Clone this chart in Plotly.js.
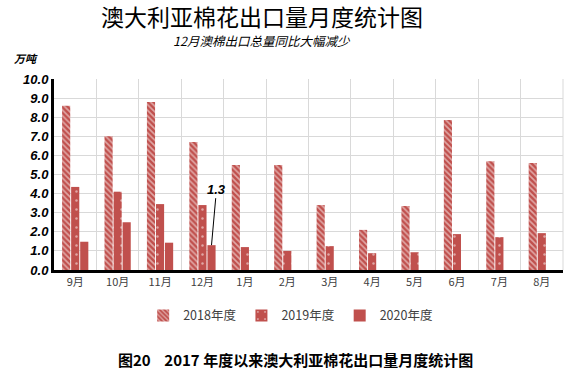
<!DOCTYPE html>
<html><head><meta charset="utf-8">
<script src="https://cdn.plot.ly/plotly-3.0.1.min.js"></script>
<style>html,body{margin:0;padding:0;background:#fff}#c{width:586px;height:382px}</style>
</head><body><div id="c"></div>
<script>
const months = ['9月','10月','11月','12月','1月','2月','3月','4月','5月','6月','7月','8月'];
const seriesNames = ['2018年度','2019年度','2020年度'];
const v2018 = [8.6, 7.0, 8.8, 6.7, 5.5, 5.5, 3.4, 2.1, 3.35, 7.85, 5.7, 5.6];
const v2019 = [4.35, 4.1, 3.45, 3.4, 1.2, 1.0, 1.25, 0.88, 0.93, 1.88, 1.72, 1.93];
const v2020 = [1.48, 2.5, 1.43, 1.3];
const yTicks = [0,1,2,3,4,5,6,7,8,9,10];

const red = '#c0504d';
const bargap = 0.36;
const traces = [
  {type:'bar', name:seriesNames[0], x:months, y:v2018,
   marker:{color:red, line:{width:0}, pattern:{shape:'\\', fillmode:'overlay', fgcolor:'#ffffff', size:4, solidity:0.4}}},
  {type:'bar', name:seriesNames[1], x:months, y:v2019,
   marker:{color:red, line:{width:0}, pattern:{shape:'.', fillmode:'overlay', fgcolor:'#ffffff', size:9, solidity:0.06}}},
  {type:'bar', name:seriesNames[2], x:months.slice(0, v2020.length), y:v2020,
   marker:{color:red, line:{width:0}}}
];

const ann12 = months.indexOf('12月');
const barOffset = (1 - bargap) / 3;
const layout = {
  width:586, height:382,
  margin:{l:54, r:23, t:79, b:112},
  paper_bgcolor:'#fff', plot_bgcolor:'#fff',
  bargap:bargap, bargroupgap:0.1,
  showlegend:true,
  title:{text:'澳大利亚棉花出口量月度统计图', x:0.447, xref:'container', y:0.954, yref:'container', yanchor:'middle', xanchor:'center',
    font:{family:'Noto Sans CJK SC', size:23, color:'#000'}},
  legend:{orientation:'h', x:0.465, xanchor:'center', y:-0.24, yanchor:'middle',
    font:{family:'Noto Sans CJK SC, Liberation Sans', size:12.5, color:'#404040'}, itemwidth:30, traceorder:'normal'},
  xaxis:{type:'category', tickson:'boundaries', showgrid:true, gridcolor:'#d9d9d9', gridwidth:1,
    showline:true, linecolor:'#000', linewidth:3, ticks:'outside', ticklen:3, tickcolor:'rgba(0,0,0,0)', mirror:false,
    tickfont:{family:'Noto Sans CJK SC, Liberation Sans', size:11, color:'#404040'}, fixedrange:true},
  yaxis:{range:[0,10], tickvals:yTicks, ticktext:yTicks.map(v=>v.toFixed(1)), showgrid:true, gridcolor:'#d9d9d9', gridwidth:1,
    showline:true, linecolor:'#000', linewidth:3, ticks:'', zeroline:false,
    tickfont:{family:'Liberation Sans', size:13, color:'#000', weight:'bold', style:'italic'}},
  shapes:[
    {type:'line', xref:'paper', yref:'paper', x0:1, x1:1, y0:0, y1:1, line:{color:'#d9d9d9', width:1}}
  ],
  annotations:[
    {xref:'paper', yref:'paper', x:0.409, y:1.2, xanchor:'center', yanchor:'middle', showarrow:false,
     text:'12月澳棉出口总量同比大幅减少', font:{family:'Noto Sans CJK SC', size:12.5, color:'#000', style:'italic'}},
    {xref:'paper', yref:'paper', x:-0.082, y:1.112, xanchor:'left', yanchor:'middle', showarrow:false,
     text:'万吨', font:{family:'Noto Sans CJK SC', size:11, color:'#000', weight:'bold', style:'italic'}},
    {xref:'x', yref:'y', x:ann12 + barOffset, y:v2020[ann12], showarrow:true, arrowhead:0, arrowwidth:1, arrowcolor:'#000',
     ax:5, ay:-56, text:'<b><i>'+v2020[ann12].toFixed(1)+'</i></b>', font:{family:'Liberation Sans', size:13, color:'#000'}},
    {xref:'paper', yref:'paper', x:0.475, y:-0.47, xanchor:'center', yanchor:'middle', showarrow:false,
     text:'图20    2017 年度以来澳大利亚棉花出口量月度统计图', font:{family:'Noto Sans CJK SC', size:15, color:'#000', weight:'bold'}}
  ]
};
Plotly.newPlot('c', traces, layout, {displayModeBar:false, staticPlot:true});
</script></body></html>
